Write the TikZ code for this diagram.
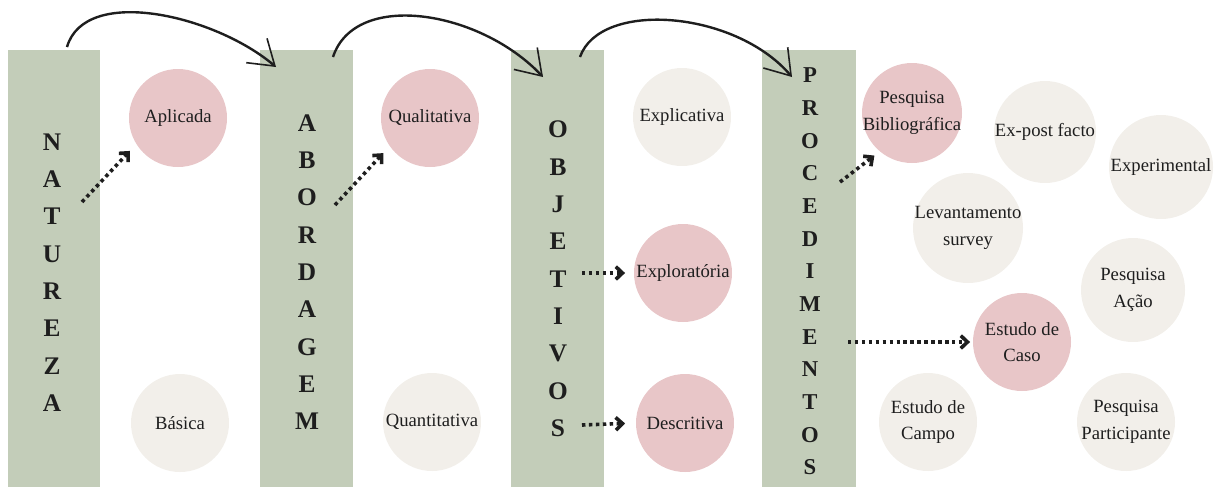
\documentclass[tikz,border=0pt]{standalone}
\usepackage{fontspec}
\setmainfont{Liberation Serif}
\usetikzlibrary{arrows.meta}
\definecolor{barGreen}{HTML}{C3CDB9}
\definecolor{ballPink}{HTML}{E8C6C8}
\definecolor{ballGrey}{HTML}{F2EFEA}
\definecolor{inkBlack}{HTML}{1E1E1E}

\begin{document}
\begin{tikzpicture}[x=0.75pt,y=-0.75pt,
  bar/.style={rectangle,fill=barGreen,minimum width=69.5pt,minimum height=327.75pt,inner sep=0pt},
  letters/.style={align=center,text=inkBlack,inner sep=0pt,font=\fontsize{19}{28}\selectfont\bfseries},
  ball/.style={circle,inner sep=-12pt,align=center,text=inkBlack,minimum size=73.5pt,font=\fontsize{14}{20}\selectfont},
  pinkball/.style={ball,fill=ballPink},
  greyball/.style={ball,fill=ballGrey},
  dotarrow/.style={inkBlack,line width=2.7pt,dash pattern=on 2.6pt off 2.6pt,-{Straight Barb[length=5pt,width=9.5pt]}},
  arcarrow/.style={inkBlack,line width=1.8pt,-{Straight Barb[length=18pt,width=24pt,line width=1.2pt]}}]
\useasboundingbox (0,0) rectangle (1217,487);
%Bars
\node at (54,268.5) [bar] (Natureza) {};
\node at (306.5,268.5) [bar] (Abordagem) {};
\node at (557.5,268.5) [bar] (Objetivos) {};
\node at (809,268.5) [bar,minimum width=70.5pt] (Procedimentos) {};
%Bar Letters
\node at (52,272.5) [letters] (NaturezaText) {N\\A\\T\\U\\R\\E\\Z\\A};
\node at (307,272) [letters] (AbordagemText) {A\\B\\O\\R\\D\\A\\G\\E\\M};
\node at (558,279) [letters] (ObjetivosText) {O\\B\\J\\E\\T\\I\\V\\O\\S};
\node at (810,271.5) [letters,font=\fontsize{17}{24.5}\selectfont\bfseries] (ProcedimentosText) {P\\R\\O\\C\\E\\D\\I\\M\\E\\N\\T\\O\\S};
%Circles
\node at (178,118) [pinkball] (Aplicada) {Aplicada};
\node at (180,423) [greyball] (Basica) {Básica};
\node at (430,118) [pinkball] (Qualitativa) {Qualitativa};
\node at (432,422) [greyball] (Quantitativa) {Quantitativa};
\node at (682,117) [greyball] (Explicativa) {Explicativa};
\node at (683,273) [pinkball] (Exploratoria) {Exploratória};
\node at (685,423) [pinkball] (Descritiva) {Descritiva};
\node at (912,113) [pinkball,minimum size=75pt] (Bibliografica) {Pesquisa\\Bibliográfica};
\node at (1045,132) [greyball,minimum size=76.5pt] (ExPost) {Ex-post facto};
\node at (1161,167) [greyball,minimum size=78pt] (Experimental) {Experimental};
\node at (968,228) [greyball,minimum size=82.5pt] (Levantamento) {Levantamento\\survey};
\node at (1133,290) [greyball,minimum size=78pt] (Acao) {Pesquisa\\Ação};
\node at (1022,342) [pinkball] (Caso) {Estudo de\\Caso};
\node at (928,422) [greyball] (Campo) {Estudo de\\Campo};
\node at (1126,422) [greyball] (Participante) {Pesquisa\\Participante};
%Arrow Ends
\coordinate (ArcStart1) at (67,47);
\coordinate (ArcTip1) at (276,67);
\coordinate (ArcStart2) at (333,57);
\coordinate (ArcTip2) at (543,77);
\coordinate (ArcStart3) at (580,57);
\coordinate (ArcTip3) at (792,77);
\coordinate (DotNat) at (82,202);
\coordinate (DotAbo) at (335,205);
\coordinate (DotObj1) at (582,273);
\coordinate (DotObj2) at (582,425);
\coordinate (DotProc1) at (840,182);
\coordinate (DotProc2) at (848,342);
%Curved Connections
\draw [arcarrow] (ArcStart1) .. controls (85,-15) and (215,15) .. (ArcTip1);
\draw [arcarrow] (ArcStart2) .. controls (355,-10) and (480,10) .. (ArcTip2);
\draw [arcarrow] (ArcStart3) .. controls (600,0) and (735,10) .. (ArcTip3);
%Dotted Connections
\draw [dotarrow,shorten >=7pt] (DotNat) -- (Aplicada.212);
\draw [dotarrow,shorten >=7pt] (DotAbo) -- (Qualitativa.215);
\draw [dotarrow,shorten >=6.5pt] (DotObj1) -- (Exploratoria.west);
\draw [dotarrow,shorten >=8pt] (DotObj2) -- (Descritiva.west);
\draw [dotarrow,shorten >=5pt] (DotProc1) -- (Bibliografica.230);
\draw [dotarrow,shorten >=2pt] (DotProc2) -- (Caso.west);
\end{tikzpicture}
\end{document}
